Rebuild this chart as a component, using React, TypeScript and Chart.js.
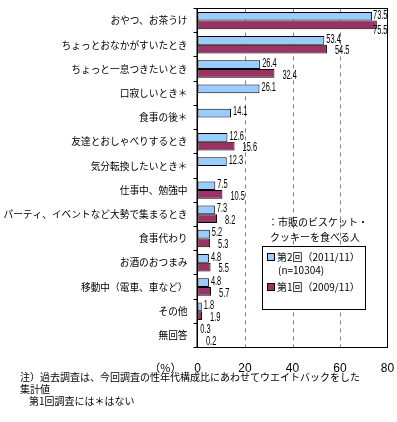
import React, { useEffect, useRef } from 'react';
import { Chart, registerables } from 'chart.js';

Chart.register(...registerables);

const categories = [
  'おやつ、お茶うけ',
  'ちょっとおなかがすいたとき',
  'ちょっと一息つきたいとき',
  '口寂しいとき＊',
  '食事の後＊',
  '友達とおしゃべりするとき',
  '気分転換したいとき＊',
  '仕事中、勉強中',
  'パーティ、イベントなど大勢で集まるとき',
  '食事代わり',
  'お酒のおつまみ',
  '移動中（電車、車など）',
  'その他',
  '無回答',
];
const seriesLabels = ['第2回（2011/11）', '第1回（2009/11）'];
const round2Values = [73.5, 53.4, 26.4, 26.1, 14.1, 12.6, 12.3, 7.5, 7.3, 5.2, 4.8, 4.8, 1.8, 0.3];
const round1Values = [75.5, 54.5, 32.4, null, null, 15.6, null, 10.5, 8.2, 5.3, 5.5, 5.7, 1.9, 0.2];
const xTickValues = [0, 20, 40, 60, 80];
const gridValues = [20, 40, 60];
const legendCaption = ['：市販のビスケット・', 'クッキーを食べる人'];
const sampleNote = '(n=10304)';
const axisUnit = '（%）';
const footnotes = [
  '注）過去調査は、今回調査の性年代構成比にあわせてウエイトバックをした',
  '集計値',
  '第1回調査には＊はない',
];

const JP = '"Noto Sans CJK JP", sans-serif';
const BLUE = '#99CCFF';
const RED = '#993366';

export default function App() {
  const ref = useRef<HTMLCanvasElement>(null);

  useEffect(() => {
    const canvas = ref.current!;
    const overlay = {
      id: 'overlay',
      beforeDatasetsDraw(chart: any) {
        const { ctx, chartArea } = chart;
        const xs = chart.scales.x;
        ctx.save();
        ctx.strokeStyle = '#808080';
        ctx.lineWidth = 1;
        ctx.setLineDash([4, 4]);
        gridValues.forEach((v) => {
          const px = Math.round(xs.getPixelForValue(v)) + 0.5;
          ctx.beginPath();
          ctx.moveTo(px, chartArea.top);
          ctx.lineTo(px, chartArea.bottom);
          ctx.stroke();
        });
        ctx.restore();
      },
      afterDatasetsDraw(chart: any) {
        const { ctx, chartArea } = chart;
        const { left, right, top, bottom } = chartArea;
        ctx.save();
        // box
        ctx.strokeStyle = '#000';
        ctx.lineWidth = 1;
        ctx.strokeRect(left, top, right - left, bottom - top);
        // thicker left axis
        ctx.beginPath();
        ctx.moveTo(left - 0.5, top);
        ctx.lineTo(left - 0.5, bottom);
        ctx.stroke();
        // category tick marks
        const n = categories.length;
        const h = (bottom - top) / n;
        for (let i = 0; i <= n; i++) {
          const y = Math.round(top + i * h - 0.5) + 0.5;
          ctx.beginPath();
          ctx.moveTo(left - 4, y);
          ctx.lineTo(left, y);
          ctx.stroke();
        }

        // value labels
        ctx.fillStyle = '#000';
        ctx.textBaseline = 'middle';
        ctx.font = '12px "Liberation Sans", sans-serif';
        const sx = 0.62;
        chart.data.datasets.forEach((ds: any, di: number) => {
          const meta = chart.getDatasetMeta(di);
          meta.data.forEach((el: any, i: number) => {
            const v = ds.data[i];
            if (v === null || v === undefined) return;
            const txt = v.toFixed(1);
            const w = ctx.measureText(txt).width * sx;
            let x = el.x + (di === 0 ? 2 : 8);
            let y = el.y + (di === 0 ? -1 : 2);
            if (x + w > right) {
              x = right - w;
              if (di === 1) y += 4;
            }
            ctx.save();
            ctx.translate(x, y);
            ctx.scale(sx, 1);
            ctx.fillText(txt, 0, 0);
            ctx.restore();
          });
        });

        // unit label
        ctx.font = '11px ' + JP;
        ctx.textAlign = 'right';
        ctx.fillText(axisUnit, left - 16, bottom + 20);

        // legend
        ctx.textAlign = 'left';
        ctx.font = '10px ' + JP;
        ctx.fillText(legendCaption[0], 268, 222);
        ctx.fillText(legendCaption[1], 270, 237);
        ctx.fillStyle = '#fff';
        ctx.fillRect(262.5, 246.5, 103, 63);
        ctx.strokeStyle = '#000';
        ctx.strokeRect(262.5, 246.5, 103, 63);
        const colors = [BLUE, RED];
        const ys = [257, 287];
        colors.forEach((c, k) => {
          ctx.fillStyle = c;
          ctx.fillRect(267.5, ys[k] - 3.5, 7, 7);
          ctx.strokeStyle = '#000';
          ctx.strokeRect(267.5, ys[k] - 3.5, 7, 7);
          ctx.fillStyle = '#000';
          ctx.fillText(seriesLabels[k], 277, ys[k]);
        });
        ctx.fillText(sampleNote, 278, 270);

        // footnotes
        ctx.font = '10px ' + JP;
        ctx.fillText(footnotes[0], 20, 377);
        ctx.fillText(footnotes[1], 20, 389);
        ctx.fillText(footnotes[2], 29, 401);
        ctx.restore();
      },
    };

    const chart = new Chart(canvas, {
      type: 'bar',
      data: {
        labels: categories,
        datasets: [
          {
            label: seriesLabels[0],
            data: round2Values,
            backgroundColor: BLUE,
            borderColor: '#000',
            borderWidth: 1,
            borderSkipped: false,
            categoryPercentage: 0.72,
            barPercentage: 1,
          },
          {
            label: seriesLabels[1],
            data: round1Values as any,
            backgroundColor: RED,
            borderColor: '#000',
            borderWidth: 1,
            borderSkipped: false,
            categoryPercentage: 0.72,
            barPercentage: 1,
          },
        ],
      },
      options: {
        indexAxis: 'y',
        responsive: false,
        maintainAspectRatio: false,
        animation: false,
        layout: { padding: { left: 0, right: 9.5, top: 8.5, bottom: 0 } },
        plugins: { legend: { display: false }, tooltip: { enabled: false } },
        scales: {
          x: {
            min: 0,
            max: 80,
            afterBuildTicks: (s: any) => {
              s.ticks = xTickValues.map((v) => ({ value: v }));
            },
            grid: { display: false, drawTicks: false },
            border: { display: false },
            ticks: {
              font: { family: '"Liberation Sans Narrow", "Liberation Sans", sans-serif', size: 12 },
              color: '#000',
              padding: 14,
              maxRotation: 0,
              autoSkip: false,
            },
            afterFit: (s: any) => {
              s.height = 74.5;
              s.paddingLeft = 0;
              s.paddingRight = 0;
            },
          },
          y: {
            grid: { display: false, drawTicks: false },
            border: { display: false },
            ticks: { font: { family: JP, size: 9.7 }, color: '#000', padding: 10, autoSkip: false },
            afterFit: (s: any) => {
              s.width = 197.5;
              s.paddingTop = 0;
              s.paddingBottom = 0;
            },
          },
        },
      },
      plugins: [overlay],
    });
    return () => chart.destroy();
  }, []);

  return (
    <div style={{ position: 'absolute', left: 0, top: 0, width: 397, height: 422, background: '#fff' }}>
      <canvas ref={ref} width={397} height={422} style={{ display: 'block' }} />
    </div>
  );
}
